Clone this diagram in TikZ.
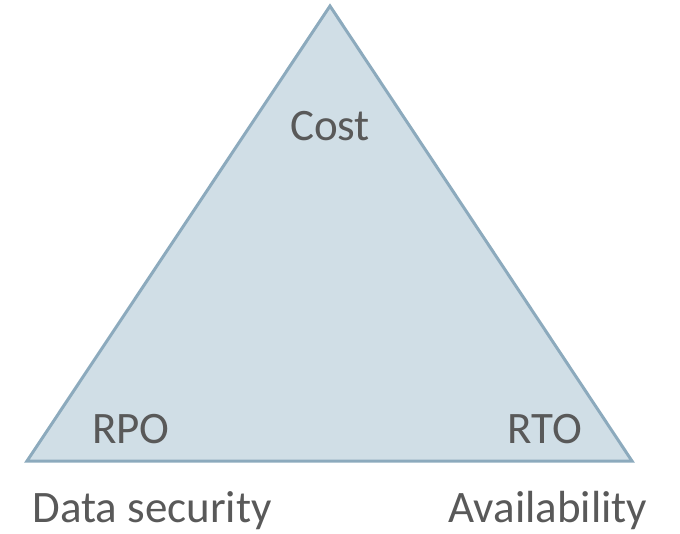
\documentclass[tikz,border=0pt]{standalone}
\usepackage{fontspec}
\setmainfont{Carlito}
\definecolor{trifill}{HTML}{D0DEE6}
\definecolor{tristroke}{HTML}{8CAABD}
\definecolor{txt}{HTML}{595959}
\begin{document}
\begin{tikzpicture}[x=1pt,y=-1pt,
  lbl/.style={anchor=base,inner sep=0pt,text=txt,font=\fontsize{45}{54}\selectfont}]
\useasboundingbox (0,0) rectangle (680,533);
\coordinate (top) at (330,6);
\coordinate (bl) at (27,461);
\coordinate (br) at (632,461);
\draw[fill=trifill,draw=tristroke,line width=3pt,line join=miter] (top) -- (bl) -- (br) -- cycle;
\node[lbl] (cost) at (330,140) {Cost};
\node[lbl] (rpo) at (131,443) {RPO};
\node[lbl] (rto) at (545,443) {RTO};
\node[lbl] (ds) at (152,522) {Data security};
\node[lbl] (av) at (548,522) {Availability};
\end{tikzpicture}
\end{document}
